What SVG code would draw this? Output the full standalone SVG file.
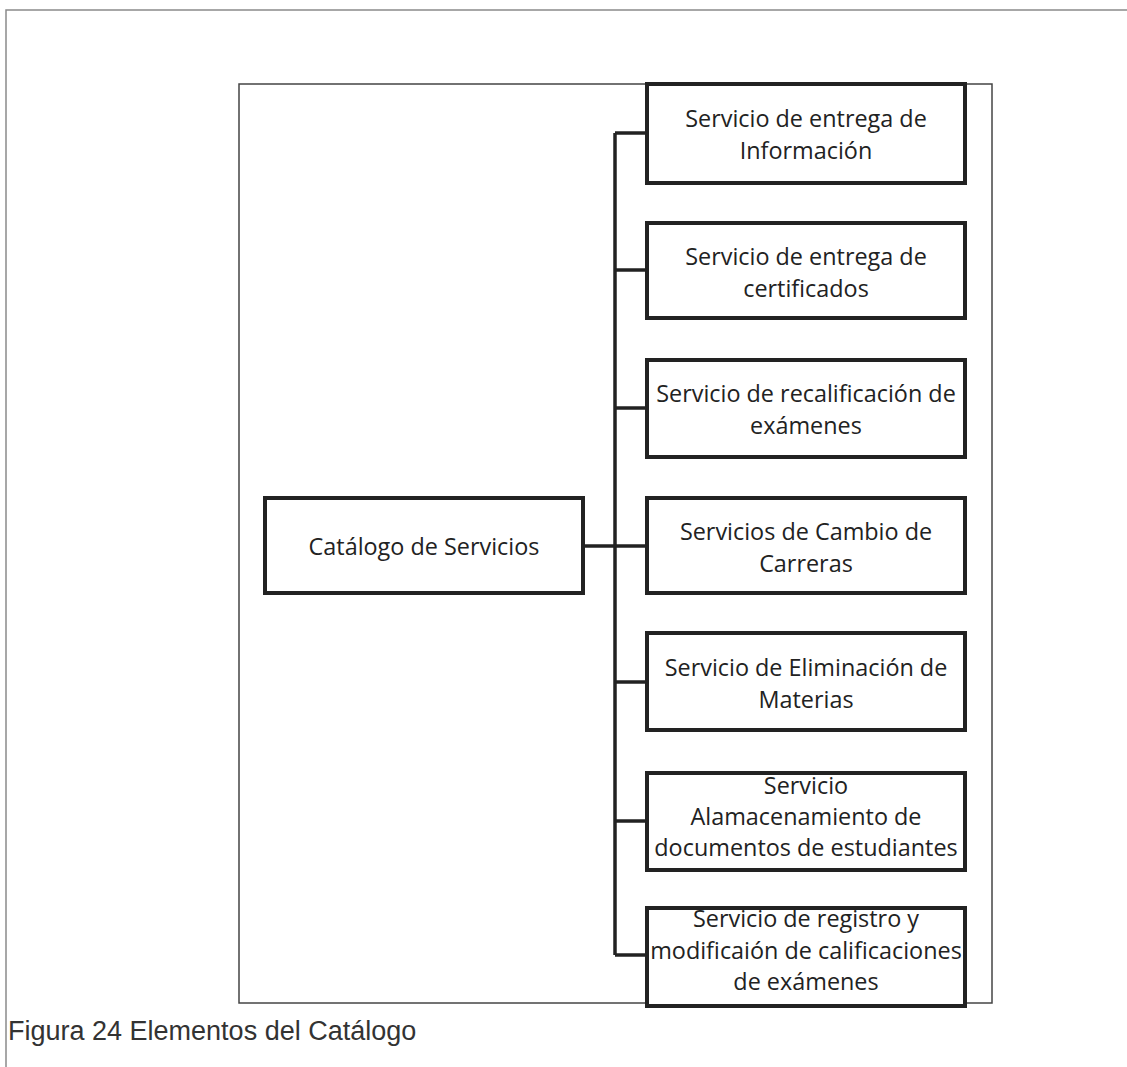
<svg xmlns="http://www.w3.org/2000/svg" width="1127" height="1067" viewBox="0 0 1127 1067">
  <style>
    .page { fill: none; stroke: #8a8a8a; stroke-width: 1.5; }
    .frame { fill: none; stroke: #444; stroke-width: 1.5; }
    .box { fill: #fff; stroke: #222; stroke-width: 4; }
    .wire { fill: none; stroke: #222; stroke-width: 3.5; }
    .lbl { font-family: "Open Sans", "Noto Sans", "DejaVu Sans", sans-serif; font-size: 23.4px; fill: #222; text-anchor: middle; }
    .cap { font-family: "Liberation Sans", Arial, sans-serif; font-size: 27px; fill: #333; }
  </style>
  <rect width="1127" height="1067" fill="#fff"/>

  <!-- page border (top and left edges) -->
  <path class="page" d="M6 1067 V10 H1127"/>

  <!-- outer figure frame -->
  <rect class="frame" x="239" y="84" width="753" height="919"/>

  <!-- connectors: trunk and branches -->
  <g id="connectors">
    <path class="wire" d="M615 133 V955"/>
    <path class="wire" d="M583 546 H647"/>
    <path class="wire" d="M615 133 H647"/>
    <path class="wire" d="M615 270 H647"/>
    <path class="wire" d="M615 408 H647"/>
    <path class="wire" d="M615 682 H647"/>
    <path class="wire" d="M615 821 H647"/>
    <path class="wire" d="M615 955 H647"/>
  </g>

  <g id="root">
    <rect class="box" x="265" y="498" width="318" height="95"/>
    <text class="lbl" x="424" y="555">Catálogo de Servicios</text>
  </g>

  <g id="svc1">
    <rect class="box" x="647" y="84" width="318" height="99"/>
    <text class="lbl" x="806" y="127">Servicio de entrega de</text>
    <text class="lbl" x="806" y="159">Información</text>
  </g>

  <g id="svc2">
    <rect class="box" x="647" y="223" width="318" height="95"/>
    <text class="lbl" x="806" y="265">Servicio de entrega de</text>
    <text class="lbl" x="806" y="297">certificados</text>
  </g>

  <g id="svc3">
    <rect class="box" x="647" y="360" width="318" height="97"/>
    <text class="lbl" x="806" y="402">Servicio de recalificación de</text>
    <text class="lbl" x="806" y="434">exámenes</text>
  </g>

  <g id="svc4">
    <rect class="box" x="647" y="498" width="318" height="95"/>
    <text class="lbl" x="806" y="540">Servicios de Cambio de</text>
    <text class="lbl" x="806" y="572">Carreras</text>
  </g>

  <g id="svc5">
    <rect class="box" x="647" y="633" width="318" height="97"/>
    <text class="lbl" x="806" y="676">Servicio de Eliminación de</text>
    <text class="lbl" x="806" y="708">Materias</text>
  </g>

  <g id="svc6">
    <rect class="box" x="647" y="773" width="318" height="97"/>
    <text class="lbl" x="806" y="794">Servicio</text>
    <text class="lbl" x="806" y="825">Alamacenamiento de</text>
    <text class="lbl" x="806" y="856">documentos de estudiantes</text>
  </g>

  <g id="svc7">
    <rect class="box" x="647" y="908" width="318" height="98"/>
    <text class="lbl" x="806" y="927">Servicio de registro y</text>
    <text class="lbl" x="806" y="959">modificaión de calificaciones</text>
    <text class="lbl" x="806" y="990">de exámenes</text>
  </g>

  <text class="cap" x="8" y="1040">Figura 24 Elementos del Catálogo</text>
</svg>
